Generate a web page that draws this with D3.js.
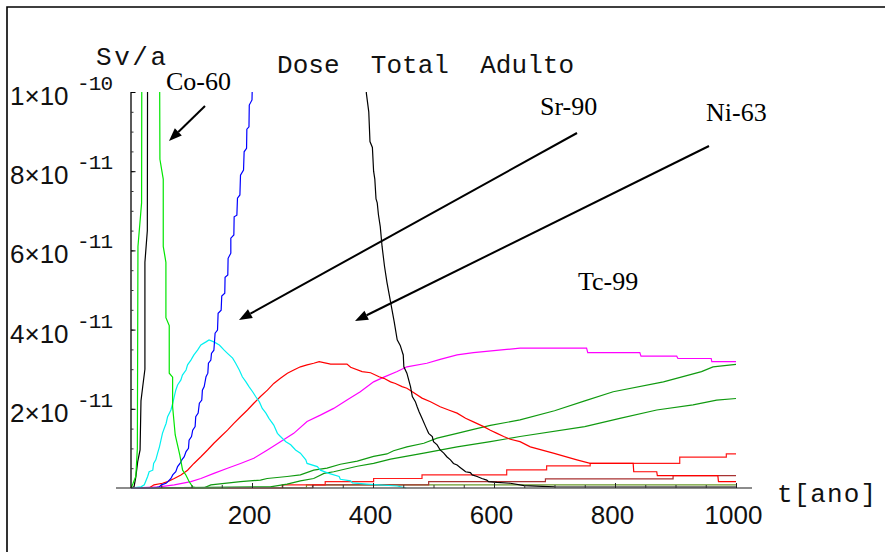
<!DOCTYPE html>
<html><head><meta charset="utf-8">
<script src="https://cdn.jsdelivr.net/npm/d3@7"></script>
<style>
html,body{margin:0;padding:0;background:#fff;}
svg{display:block;}
</style></head>
<body>
<svg id="chart" width="885" height="552"></svg>
<script>
// ---- data (values in units of 1e-11 Sv/a, time in years) ----
const co60 = [[0,0],[3,0.1],[8,0.3],[10.5,1.0],[11.5,6.1],[17.5,7.2],[18,12],[47,12],[47.8,8.3],[53.3,7.8],[53.3,6.1],[57.7,5.7],[57.7,4.3],[63.2,4.1],[63.2,2.9],[68.8,2.8],[68.8,2.05],[73.1,1.34],[80.7,0.83],[85.3,0.45],[90.7,0.33],[96.2,0.16],[101.8,0.03],[110,0],[160,0]];
const total = [[0,0],[5,0.03],[8,0.28],[11,0.66],[15,0.96],[16.5,2.2],[19.3,2.55],[23,3.0],[23,5.7],[27,6.5],[27.5,12],[388,12],[389,9.97],[393,9.5],[395,8.75],[399,8.6],[401,8.0],[403,7.8],[405,7.3],[407,7.2],[409,6.9],[412,6.6],[415,6.1],[419,5.6],[423,5.2],[429,4.7],[435,4.2],[440,3.74],[445,3.6],[450,3.36],[451,3.06],[456,2.9],[462,2.56],[465,2.31],[470,2.18],[473,2.05],[476,1.93],[481,1.76],[487,1.55],[492,1.38],[498,1.3],[500,1.17],[506,1.09],[511,0.96],[517,0.88],[522,0.79],[528,0.71],[533,0.62],[539,0.58],[544,0.52],[550,0.45],[553,0.41],[561,0.39],[564,0.33],[572,0.29],[580,0.24],[588,0.2],[591,0.16],[605,0.14],[627,0.12],[650,0.06],[700,0.03],[1000,0.02]];
const blue = [[0,0],[38,0],[47,0.03],[50,0.08],[58,0.12],[61,0.16],[66,0.24],[69,0.33],[74,0.41],[77,0.54],[81,0.62],[84,0.71],[88,0.79],[91,0.92],[95,1.0],[96,1.21],[100,1.3],[102,1.46],[106,1.55],[107,1.8],[111,1.89],[113,2.14],[117,2.22],[118,2.47],[121,2.56],[124,2.81],[127,2.9],[128,3.15],[132,3.23],[133,3.4],[137,3.48],[139,3.91],[143,3.99],[144,4.41],[149,4.49],[150,4.85],[155,4.92],[155.5,5.32],[160,5.38],[160.5,5.8],[165,5.93],[165,6.31],[170,6.39],[170.5,6.85],[175,6.89],[176,7.32],[180,7.4],[181,7.9],[186,8.03],[187,8.49],[191,8.58],[191.5,9.06],[195,9.12],[195.5,9.67],[200,9.8],[201,10.5],[206,12]];
const cyan = [[0,0],[16.5,0.03],[22,0.08],[27.5,0.29],[30,0.41],[36,0.45],[37.4,0.62],[41,0.71],[44,0.88],[47,1.04],[49.5,1.21],[52,1.38],[55,1.51],[58,1.63],[60.5,1.8],[66,1.97],[69,2.14],[71.5,2.31],[74,2.47],[77,2.6],[82.5,2.73],[85,2.85],[91,2.98],[93.5,3.11],[99,3.23],[104,3.36],[110,3.48],[115.5,3.61],[124,3.69],[129,3.74],[137,3.69],[146,3.61],[154,3.48],[159.5,3.4],[168,3.28],[173,3.15],[179,2.98],[184,2.81],[190,2.68],[195,2.56],[201,2.43],[206,2.31],[212,2.18],[217,2.01],[223,1.89],[228,1.76],[236,1.59],[242,1.38],[247,1.3],[256,1.17],[264,1.09],[272,0.96],[280,0.88],[289,0.71],[291,0.62],[308,0.54],[313,0.45],[327,0.37],[344,0.29],[346,0.22],[363,0.18],[366,0.13],[390,0.1],[440,0.05],[455,0]];
const red = [[0,0],[30,0],[38,0.08],[52,0.12],[60.5,0.16],[71.5,0.24],[82.5,0.33],[93.5,0.45],[104,0.62],[115.5,0.79],[126.5,0.96],[137,1.13],[148.5,1.3],[159.5,1.46],[170,1.63],[181,1.8],[192.5,1.97],[203,2.14],[214,2.31],[225.5,2.47],[236,2.64],[247,2.77],[258.5,2.9],[269,2.98],[280,3.06],[291,3.11],[302,3.15],[311,3.19],[330,3.13],[357,3.13],[363,3.05],[382,2.94],[396,2.91],[410,2.81],[418,2.77],[429,2.68],[437,2.64],[448,2.56],[456,2.52],[465,2.43],[481,2.27],[495,2.18],[511,2.05],[525,1.97],[539,1.89],[553,1.76],[566,1.67],[583,1.55],[594,1.46],[605,1.38],[616,1.3],[627,1.23],[643,1.17],[660,1.04],[698,0.88],[737,0.71],[759,0.62],[830,0.62],[831,0.41],[869,0.41],[870,0.31],[970,0.31],[971,0.16],[1000,0.16]];
const magenta = [[0,0],[46.7,0.03],[71.5,0.08],[99,0.16],[115.5,0.24],[137,0.37],[159.5,0.5],[181,0.62],[203,0.75],[225.5,0.96],[247,1.17],[269,1.38],[291,1.68],[313,1.84],[335,2.01],[357,2.22],[379,2.43],[401,2.68],[418,2.8],[440,2.94],[456,3.06],[489,3.15],[511,3.25],[539,3.36],[566,3.42],[621,3.5],[643,3.53],[753,3.53],[755,3.42],[841,3.42],[843,3.33],[902,3.33],[904,3.27],[959,3.27],[960,3.19],[1000,3.19]];
const greenA = [[0,0],[120,0],[132,0.08],[181,0.16],[214,0.2],[225,0.24],[258,0.29],[280,0.33],[302,0.45],[324,0.5],[346,0.6],[374,0.68],[401,0.8],[423,0.86],[434,0.94],[456,1.04],[484,1.13],[506,1.26],[539,1.38],[566,1.48],[594,1.58],[643,1.72],[700,1.95],[750,2.2],[797,2.43],[880,2.68],[943,2.94],[962,3.06],[1000,3.12]];
const greenB = [[0,0],[230,0.03],[258,0.1],[280,0.18],[302,0.24],[319,0.37],[335,0.41],[374,0.55],[401,0.62],[429,0.73],[484,0.88],[539,1.04],[594,1.17],[643,1.3],[750,1.55],[808,1.76],[869,1.97],[929,2.1],[968,2.22],[1000,2.26]];
const redLow = [[0,0],[250,0.08],[321,0.16],[401,0.24],[481,0.33],[621,0.46],[687,0.56],[759,0.62],[907,0.78],[984,0.86],[1000,0.86]];
const maroon = [[0,0],[300,0.08],[492,0.16],[685,0.23],[896,0.31],[1000,0.31]];
const olive = [[0,0],[290,0.08],[1000,0.08]];

const xMajor = [200,400,600,800,1000];
const xMinor = d3.range(50,1001,50);
const yMajor = [2,4,6,8,10];
const yMinor = d3.range(0.5,10.01,0.5);
const yLabels = [["2","-11"],["4","-11"],["6","-11"],["8","-11"],["1","-10"]];

// ---- scales ----
const svg = d3.select("#chart");
const x = d3.scaleLinear().domain([0,1000]).range([131,736]);
const y = d3.scaleLinear().domain([0,10]).range([488,92]);

// frame
svg.append("path").attr("d","M7,552 L7,7 L885,7").attr("fill","none").attr("stroke","#000").attr("stroke-width",1.6);

// clip
svg.append("defs").append("clipPath").attr("id","plotclip")
  .append("rect").attr("x",131).attr("y",92).attr("width",630).attr("height",398);

const line = d3.line().x(d=>x(d[0])).y(d=>y(d[1]));
const lineStep = d3.line().x(d=>x(d[0])).y(d=>y(d[1])).curve(d3.curveStepAfter);

const series = [
  {d: olive, c:"#6b9a2a", step:true},
  {d: maroon, c:"#a83232", step:true},
  {d: redLow, c:"#ff1a1a", step:true},
  {d: greenB, c:"#109a10"},
  {d: greenA, c:"#109a10"},
  {d: magenta, c:"#ff00ff"},
  {d: red, c:"#ff0000"},
  {d: cyan, c:"#00f0f0"},
  {d: blue, c:"#0000ff"},
  {d: total, c:"#000000"},
  {d: co60, c:"#00e600"}
];
const g = svg.append("g").attr("clip-path","url(#plotclip)");
series.forEach(s=>{
  g.append("path").attr("d",(s.step?lineStep:line)(s.d))
    .attr("fill","none").attr("stroke",s.c).attr("stroke-width",1.2);
});

// x axis
svg.append("line").attr("x1",116).attr("x2",752).attr("y1",488).attr("y2",488)
  .attr("stroke","#666").attr("stroke-width",1.5);
const xMinAx = svg.append("g").attr("transform","translate(0,488)")
  .call(d3.axisBottom(x).tickValues(xMinor).tickSize(-3).tickFormat(""));
xMinAx.select(".domain").remove();
xMinAx.selectAll("line").attr("stroke","#333");
const xAx = svg.append("g").attr("transform","translate(0,488)")
  .call(d3.axisBottom(x).tickValues(xMajor).tickSize(-5).tickPadding(18).tickFormat(d3.format("d")));
xAx.select(".domain").remove();
xAx.selectAll("line").attr("stroke","#222");
xAx.selectAll("text").attr("font-family","Liberation Sans, Arial, sans-serif").attr("font-size",26).attr("fill","#111")
  .attr("dx",-3);

// y axis
svg.append("line").attr("x1",131).attr("x2",131).attr("y1",92).attr("y2",488)
  .attr("stroke","#000").attr("stroke-width",1.3);
const yMinAx = svg.append("g").attr("transform","translate(131,0)")
  .call(d3.axisLeft(y).tickValues(yMinor).tickSize(-2.5).tickFormat(""));
yMinAx.select(".domain").remove();
yMinAx.selectAll("line").attr("stroke","#333");
const yAx = svg.append("g").attr("transform","translate(131,0)")
  .call(d3.axisLeft(y).tickValues(yMajor).tickSize(-4.5).tickFormat(""));
yAx.select(".domain").remove();
yAx.selectAll("line").attr("stroke","#000");

// y tick labels  n×10^e
yMajor.forEach((v,i)=>{
  const ty = y(v);
  const lab = yLabels[i];
  const t = svg.append("text").attr("x",10).attr("y",ty+13)
    .attr("font-family","Liberation Sans, Arial, sans-serif").attr("font-size",26).attr("fill","#111");
  t.append("tspan").text(lab[0] + "\u00d710");
  t.append("tspan").attr("x",77).attr("dy",-15)
    .attr("font-family","Liberation Mono, Courier New, monospace").attr("font-size",21)
    .attr("textLength",36).attr("lengthAdjust","spacing").text(lab[1]);
});

// axis titles
svg.append("text").attr("x",96).attr("y",65).attr("font-family","Liberation Mono, Courier New, monospace")
  .attr("font-size",26).attr("fill","#111").attr("textLength",70).attr("lengthAdjust","spacing").text("Sv/a");
svg.append("text").attr("x",777).attr("y",502).attr("font-family","Liberation Mono, Courier New, monospace")
  .attr("font-size",26).attr("fill","#111").attr("textLength",99).attr("lengthAdjust","spacing").text("t[ano]");
svg.append("text").attr("x",277).attr("y",73).attr("font-family","Liberation Mono, Courier New, monospace")
  .attr("font-size",26).attr("fill","#111").attr("xml:space","preserve").style("white-space","pre")
  .attr("textLength",297).attr("lengthAdjust","spacing").text("Dose  Total  Adulto");

// annotations
const ann = [["Co-60",166,90],["Sr-90",540,115],["Ni-63",706,121],["Tc-99",578,290]];
ann.forEach(a=>{
  svg.append("text").attr("x",a[1]).attr("y",a[2]).attr("font-family","Liberation Serif, Times New Roman, serif")
    .attr("font-size",26).attr("fill","#000").text(a[0]);
});
const arrows = [[205,106,169,141],[577,133,239,320],[709,146,355,321]];
arrows.forEach(a=>{
  const [x1,y1,x2,y2]=a;
  const ang=Math.atan2(y2-y1,x2-x1), L=13, W=5;
  const bx=x2-L*Math.cos(ang), by=y2-L*Math.sin(ang);
  svg.append("line").attr("x1",x1).attr("y1",y1).attr("x2",bx).attr("y2",by).attr("stroke","#000").attr("stroke-width",2);
  const px=-Math.sin(ang), py=Math.cos(ang);
  svg.append("path").attr("d",`M${x2},${y2} L${bx+W*px},${by+W*py} L${bx-W*px},${by-W*py} Z`).attr("fill","#000");
});
</script>
</body></html>
